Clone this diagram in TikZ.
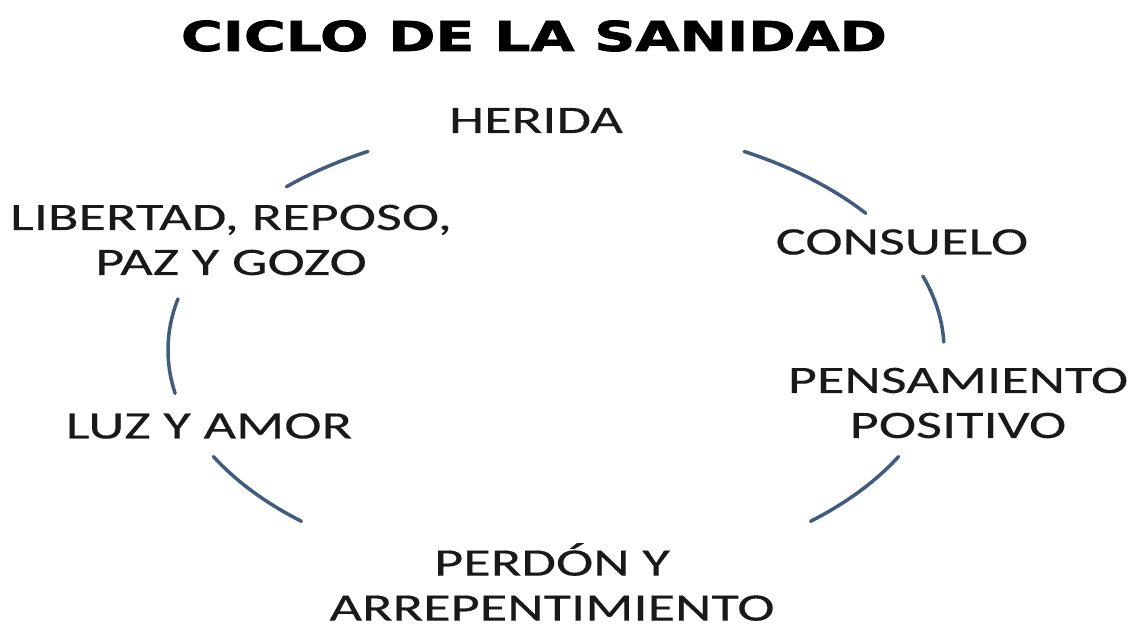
\documentclass[tikz,border=0pt]{standalone}
\usepackage{fontspec}
\setmainfont{Carlito}[FakeStretch=1.45,FakeBold=0.3]
\newfontfamily\titlefont{DejaVu Sans}[FakeStretch=1.385,FakeBold=2]
\usepackage{tikz}
\usetikzlibrary{positioning}
\usepackage{xcolor}
\definecolor{CycleBlue}{RGB}{66,92,128}
\definecolor{LabelGray}{RGB}{25,25,25}

\begin{document}
\begin{tikzpicture}[
  every node/.style={inner sep=0pt},
  stagelabel/.style={text=LabelGray, align=center, font=\fontsize{22.1}{25.6}\selectfont},
  titlelabel/.style={text=black, font=\titlefont\bfseries\fontsize{23.4}{26}\selectfont},
  cyclearc/.style={draw=CycleBlue, line width=2pt, line cap=round}
]
\useasboundingbox (0,0) rectangle (22.86,12.64);

\node[titlelabel] (title) at (10.68,11.92) {CICLO DE LA SANIDAD};

\coordinate (hub) at (11.12,5.64);

\node[stagelabel] (herida) at (10.72,10.23) {HERIDA};
\node[stagelabel] (consuelo) at (18.04,7.80) {CONSUELO};
\node[stagelabel] (pensamiento) at (19.16,4.58) {PENSAMIENTO\\POSITIVO};
\node[stagelabel] (perdon) at (11.04,1.0) {PERDÓN Y\\ARREPENTIMIENTO};
\node[stagelabel] (luz) at (4.18,4.12) {LUZ Y AMOR};
\node[stagelabel] (libertad) at (4.62,7.84) {LIBERTAD, REPOSO,\\PAZ Y GOZO};

\draw[cyclearc] (hub) ++(61:7.76cm and 4.54cm) arc[start angle=61, end angle=37, x radius=7.76cm, y radius=4.54cm];
\draw[cyclearc] (hub) ++(19:7.76cm and 4.54cm) arc[start angle=19, end angle=2, x radius=7.76cm, y radius=4.54cm];
\draw[cyclearc] (hub) ++(-28:7.76cm and 4.54cm) arc[start angle=-28, end angle=-49, x radius=7.76cm, y radius=4.54cm];
\draw[cyclearc] (hub) ++(229:7.76cm and 4.54cm) arc[start angle=229, end angle=208, x radius=7.76cm, y radius=4.54cm];
\draw[cyclearc] (hub) ++(191:7.76cm and 4.54cm) arc[start angle=191, end angle=167, x radius=7.76cm, y radius=4.54cm];
\draw[cyclearc] (hub) ++(134:7.76cm and 4.54cm) arc[start angle=134, end angle=119, x radius=7.76cm, y radius=4.54cm];
\end{tikzpicture}
\end{document}
